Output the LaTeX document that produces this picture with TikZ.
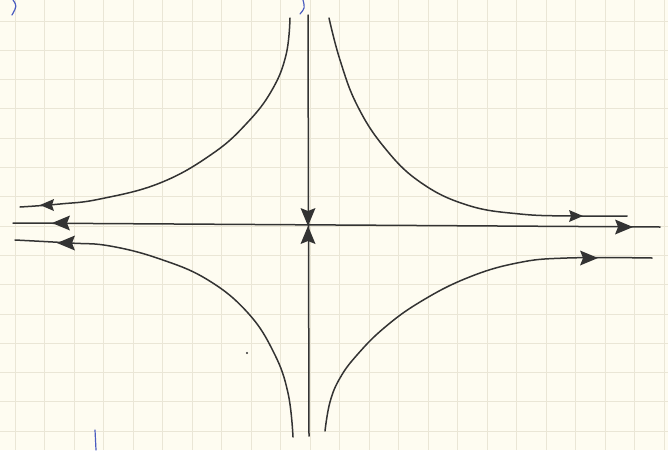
\documentclass[tikz,border=0pt]{standalone}
\definecolor{paper}{HTML}{FEFCF1}
\definecolor{gridc}{HTML}{EAE6D6}
\definecolor{ink}{HTML}{333333}
\definecolor{bleed}{HTML}{4A5CC0}
\tikzset{
  curve/.style={draw=ink, line width=1.5pt, line cap=round, line join=round},
  ah/.pic={\fill[ink] (0,0) -- (-18,7.5) -- (-15,0) -- (-18,-7.5) -- cycle;},
  ahs/.pic={\fill[ink] (0,0) -- (-14,6) -- (-12,0) -- (-14,-6) -- cycle;},
}
\begin{document}
\begin{tikzpicture}[x=1pt,y=-1pt]
\useasboundingbox (0,0) rectangle (668,450);
\fill[paper] (0,0) rectangle (668,450);
% grid
\foreach \k in {0,...,22} {\draw[gridc, line width=1pt] ({15+29.5*\k},0) -- ({15+29.5*\k},450);}
\foreach \k in {0,...,14} {\draw[gridc, line width=1pt] (0,{21+29.3*\k}) -- (668,{21+29.3*\k});}
% axes
\coordinate (L) at (13,223);
\coordinate (R) at (660,227);
\coordinate (T) at (308,15);
\coordinate (B) at (309,436);
\draw[curve] (L) -- (R);
\draw[curve] (T) -- (B);
% trajectories
\draw[curve] plot[smooth, tension=0.7] coordinates {(290,18) (286,55) (272,90) (247,123) (212,154) (160,183) (100,199) (60,204) (20,207)};
\draw[curve] plot[smooth, tension=0.7] coordinates {(329,18) (340,60) (357,105) (384,147) (420,182) (467,205) (520,214) (574,216) (627,216)};
\draw[curve] plot[smooth, tension=0.7] coordinates {(15,240) (70,243) (110,246) (160,259) (208,280) (248,313) (274,353) (288,393) (293,437)};
\draw[curve] plot[smooth, tension=0.7] coordinates {(325,431) (330,402) (340,378) (357,355) (384,328) (420,302) (467,278) (517,263) (567,258) (652,258)};
% arrowheads
\pic[rotate=180] at (52,223) {ah};
\pic[rotate=180] at (40,205) {ahs};
\pic[rotate=180] at (57,243) {ah};
\pic at (633,227) {ah};
\pic at (583,216) {ahs};
\pic at (598,258) {ah};
\pic[rotate=90] at (308,226) {ah};
\pic[rotate=-90] at (308,226) {ah};
% bleed-through marks and pencil dot
\draw[bleed, line width=1.2pt, line cap=round] (13,0) .. controls (17,6) .. (12,15);
\draw[bleed, line width=1.2pt, line cap=round] (303,0) .. controls (305,8) .. (300,14);
\draw[bleed, line width=1.2pt, line cap=round] (95,430) -- (96,450);
\fill[ink] (247,353) circle (1.2pt);
\end{tikzpicture}
\end{document}
